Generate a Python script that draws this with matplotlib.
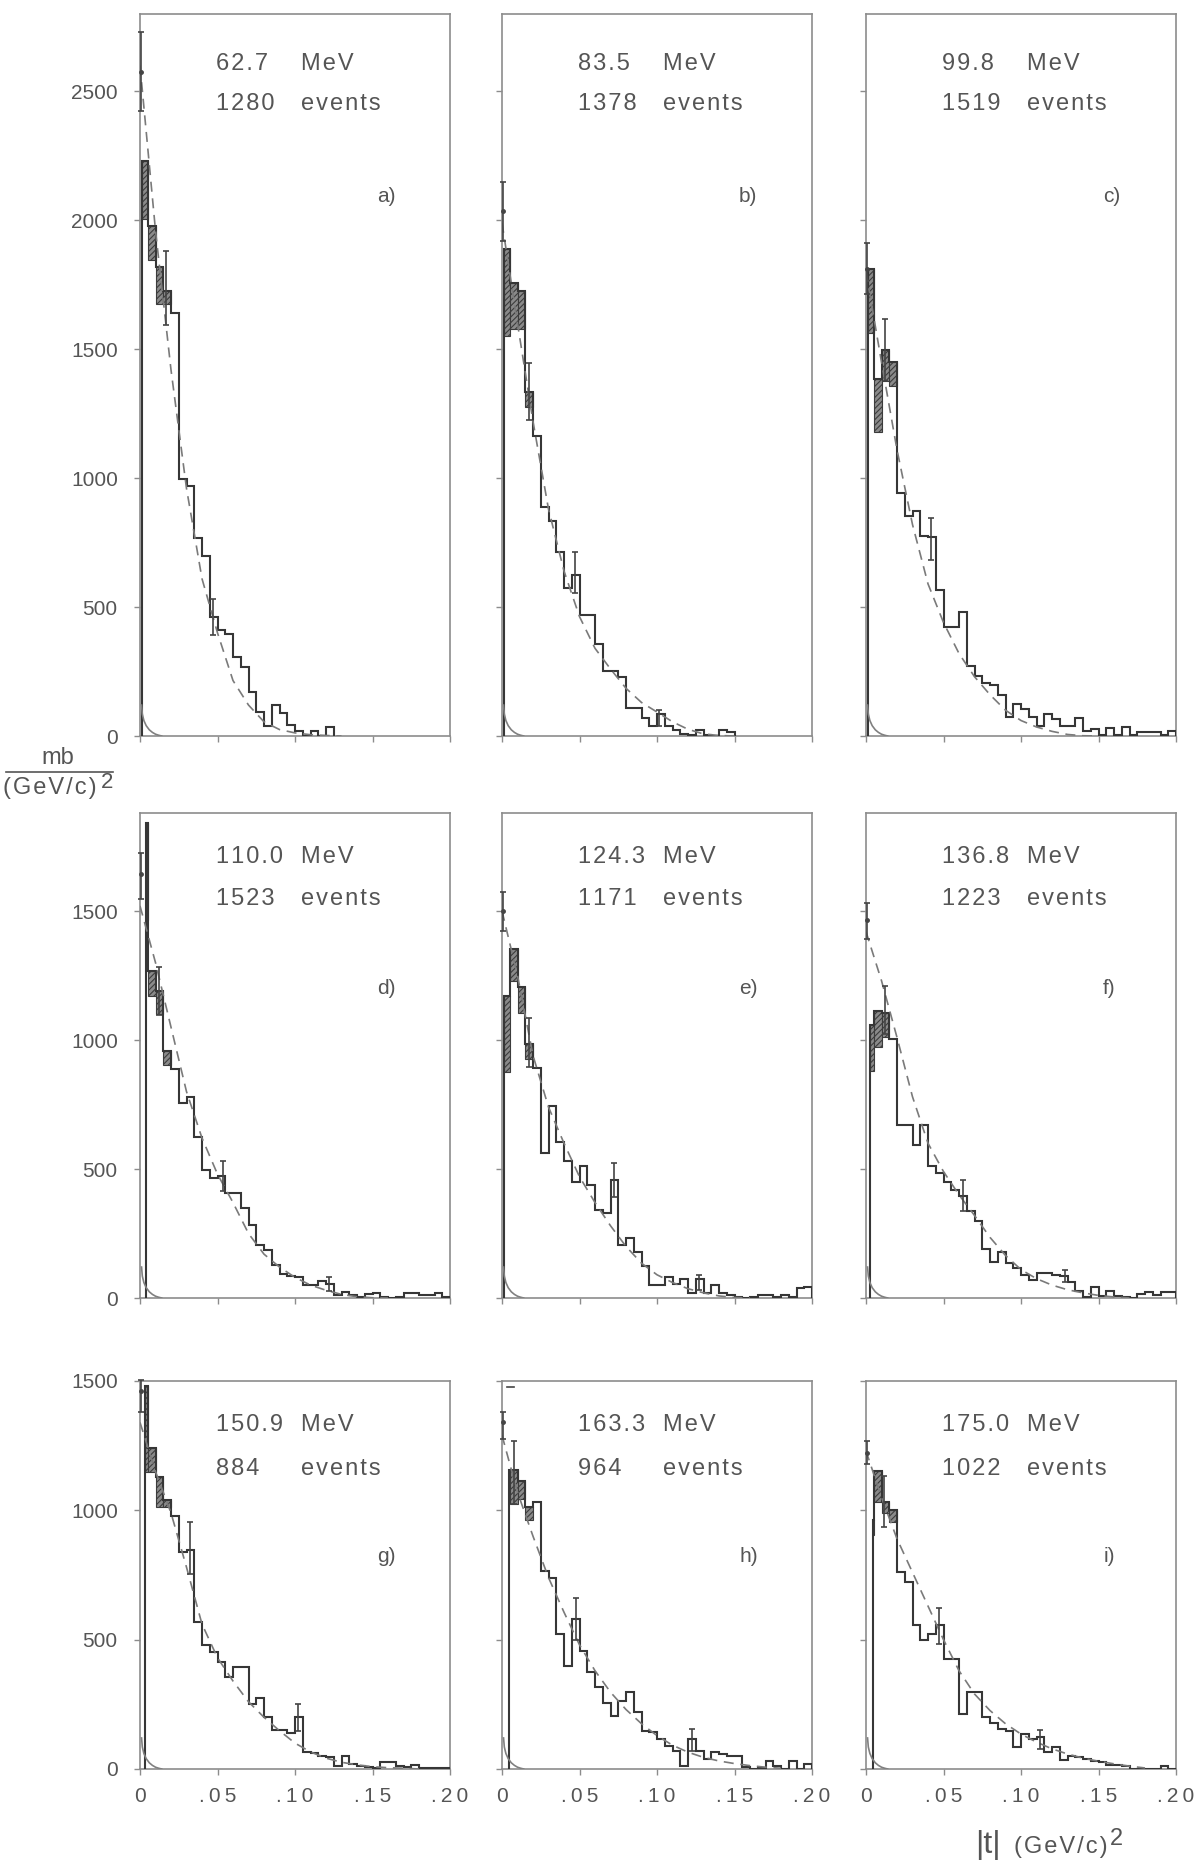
import numpy as np
import matplotlib
matplotlib.use("Agg")
import matplotlib.pyplot as plt
from matplotlib.patches import Rectangle
from matplotlib.lines import Line2D

plt.rcParams['font.family'] = ['Liberation Sans', 'DejaVu Sans']
plt.rcParams['hatch.linewidth'] = 0.8

W, H = 1197, 1868
HS = "\u200a"   # hair space, the original lettering is widely tracked
TS = "\u2009"

# ---------------- data ----------------
energies = ["62.7", "83.5", "99.8", "110.0", "124.3", "136.8", "150.9", "163.3", "175.0"]
events = ["1280", "1378", "1519", "1523", "1171", "1223", "884", "964", "1022"]
tags = ["a)", "b)", "c)", "d)", "e)", "f)", "g)", "h)", "i)"]

bin_w = 0.005
# left edge of the first (partial) bin, the rest are multiples of 0.005
first_edge = [0.0012, 0.0015, 0.0013, 0.0036, 0.0015, 0.0028, 0.0033, 0.0048, 0.0045]

counts_a = [2228, 1976, 1820, 1727, 1640, 998, 968, 768, 697, 463, 412, 397, 305, 268,
            169, 92, 40, 120, 88, 43, 21, 0, 21, 0, 34]
counts_b = [1888, 1757, 1725, 1336, 1162, 888, 835, 712, 574, 625, 470, 470, 357, 253,
            253, 229, 109, 109, 71, 39, 84, 39, 24, 9, 2, 24, 2, 0, 24, 15]
counts_c = [1811, 1386, 1498, 1451, 943, 853, 873, 775, 770, 566, 421, 421, 480, 272,
            234, 206, 197, 159, 75, 125, 103, 75, 37, 84, 65, 37, 37, 69, 19, 28,
            4, 32, 4, 34, 4, 15, 15, 15, 4, 19]
counts_d = [1843, 1267, 1191, 956, 889, 756, 779, 626, 495, 466, 472, 406, 406, 349,
            282, 206, 186, 126, 93, 87, 83, 49, 49, 67, 53, 13, 24, 13, 3, 16,
            20, 3, 0, 3, 20, 20, 11, 13, 20, 3]
counts_e = [1170, 1354, 1204, 984, 893, 564, 744, 604, 530, 451, 511, 437, 341, 331,
            457, 204, 233, 177, 124, 51, 51, 80, 55, 75, 21, 75, 21, 51, 21, 11,
            4, 0, 4, 11, 11, 4, 11, 4, 37, 44]
counts_f = [1059, 1112, 1105, 1005, 671, 671, 594, 671, 511, 484, 451, 417, 397, 337,
            299, 190, 139, 179, 136, 116, 90, 70, 96, 96, 90, 86, 63, 29, 3, 43,
            9, 29, 9, 5, 0, 16, 23, 13, 23, 23]
counts_g = [1480, 1241, 1128, 1040, 980, 838, 847, 567, 481, 451, 412, 354, 393, 393,
            251, 273, 200, 151, 151, 138, 200, 64, 61, 52, 45, 13, 52, 19, 13, 6,
            4, 26, 26, 13, 6, 15, 4, 4, 4, 4]
counts_h = [1155, 1155, 1112, 1013, 1032, 764, 738, 522, 400, 580, 458, 374, 316, 255,
            206, 264, 297, 219, 148, 142, 116, 90, 71, 13, 116, 71, 39, 64, 58, 49,
            49, 6, 0, 3, 32, 13, 0, 32, 0, 19]
counts_i = [961, 1152, 1032, 1000, 761, 722, 555, 499, 522, 557, 426, 426, 213, 297,
            297, 200, 177, 155, 148, 86, 135, 116, 125, 64, 84, 35, 52, 45, 39, 32,
            26, 17, 17, 13, 0, 0, 0, 0, 13, 0]

# shaded correction boxes: (bin index, low, high)
boxes_a = [(0, 2004, 2228), (1, 1845, 1976), (2, 1676, 1820), (3, 1676, 1727)]
boxes_b = [(0, 1551, 1888), (1, 1580, 1757), (2, 1580, 1725), (3, 1275, 1336)]
boxes_c = [(0, 1564, 1811), (1, 1180, 1386), (2, 1376, 1498), (3, 1358, 1451)]
boxes_d = [(0, 1464, 1843), (1, 1171, 1267), (2, 1102, 1191), (3, 905, 956)]
boxes_e = [(0, 875, 1170), (1, 1230, 1354), (2, 1106, 1204), (3, 928, 984)]
boxes_f = [(0, 878, 1059), (1, 972, 1112), (2, 1012, 1105)]
boxes_g = [(0, 1150, 1480), (1, 1147, 1241), (2, 1012, 1128), (3, 1012, 1040)]
boxes_h = [(1, 1026, 1155), (2, 1045, 1112), (3, 961, 1013)]
boxes_i = [(0, 903, 961), (1, 1032, 1152), (2, 989, 1032), (3, 955, 1000)]

# error bars on single bins: (t, low, high)
errs_a = [(0.0168, 1592, 1882), (0.0468, 393, 530)]
errs_b = [(0.0177, 1224, 1448), (0.0474, 553, 712), (0.1010, 39, 99)]
errs_c = [(0.0120, 1376, 1616), (0.0422, 684, 847)]
errs_d = [(0.0123, 1098, 1284), (0.0535, 413, 530), (0.1220, 27, 80)]
errs_e = [(0.0172, 897, 1084), (0.0720, 391, 524), (0.1270, 31, 91)]
errs_f = [(0.0122, 1025, 1209), (0.0625, 337, 457), (0.1285, 63, 110)]
errs_g = [(0.0323, 754, 954), (0.1022, 148, 251)]
errs_h = [(0.0075, 1026, 1267), (0.0477, 500, 660), (0.1224, 71, 155)]
errs_i = [(0.0118, 935, 1131), (0.0474, 484, 623), (0.1125, 78, 152)]

# extrapolated point at t = 0: (value, low, high)
zero_pts = [(2575, 2425, 2730), (2035, 1920, 2150), (1811, 1714, 1910),
            (1644, 1547, 1724), (1501, 1421, 1574), (1467, 1393, 1533),
            (1463, 1379, 1502), (1342, 1275, 1380), (1222, 1180, 1268)]

# dashed fitted curve, read at t = 0, .01, ... .18
fit_t = [0.00, 0.01, 0.02, 0.03, 0.04, 0.05, 0.06, 0.07, 0.08, 0.09,
         0.10, 0.11, 0.12, 0.13, 0.14, 0.15, 0.16, 0.17, 0.18]
fit_a = [2600, 1960, 1420, 960, 610, 400, 215, 120, 55, 25, 12, 5, 2, 0]
fit_b = [1990, 1600, 1220, 880, 640, 463, 340, 260, 185, 130, 93, 55, 26, 8, 2, 0]
fit_c = [1800, 1450, 1110, 820, 590, 440, 320, 230, 160, 100, 60, 35, 18, 6, 1, 0]
fit_d = [1520, 1300, 1050, 800, 620, 480, 370, 250, 170, 120, 80, 50, 30, 14, 5, 1, 0]
fit_e = [1500, 1250, 940, 740, 600, 470, 370, 280, 200, 135, 90, 60, 36, 20, 8, 2, 0]
fit_f = [1420, 1230, 1010, 780, 600, 490, 400, 320, 235, 165, 110, 75, 50, 32, 20, 10, 4, 0]
fit_g = [1340, 1150, 990, 780, 560, 430, 340, 260, 200, 148, 100, 66, 42, 26, 16, 9, 5, 3, 0]
fit_h = [1290, 1070, 900, 740, 606, 480, 380, 297, 230, 175, 129, 92, 65, 45, 31, 21, 13, 7, 3]
fit_i = [1230, 1050, 890, 760, 630, 500, 380, 290, 226, 175, 135, 104, 78, 58, 42, 30, 20, 11, 4]

# small solid curve near the origin (same in every panel)
coul_t = [0.0010, 0.0015, 0.0025, 0.0040, 0.0060, 0.0080, 0.0100, 0.0120, 0.0140]
coul_v = [120, 85, 60, 40, 24, 14, 7, 3, 0]

# stray mark at the top of panel h
h_mark = (0.0032, 0.0075, 1477)

row_ymax = [2800, 1880, 1500]
row_yticks = [[0, 500, 1000, 1500, 2000, 2500], [0, 500, 1000, 1500], [0, 500, 1000, 1500]]
xticks = [0, 0.05, 0.10, 0.15, 0.20]
xtick_labels = ["0", ".05", ".10", ".15", ".20"]

counts = [counts_a, counts_b, counts_c, counts_d, counts_e, counts_f, counts_g, counts_h, counts_i]
boxes = [boxes_a, boxes_b, boxes_c, boxes_d, boxes_e, boxes_f, boxes_g, boxes_h, boxes_i]
errs = [errs_a, errs_b, errs_c, errs_d, errs_e, errs_f, errs_g, errs_h, errs_i]
fits = [fit_a, fit_b, fit_c, fit_d, fit_e, fit_f, fit_g, fit_h, fit_i]

# ---------------- layout (pixels of the 1197x1868 page) ----------------
col_left = [140, 502, 866]
col_w = 310
row_top = [14, 813, 1381]
row_zero = [736, 1298, 1769]
mev_dy = [50, 44, 44]
evt_dy = [90, 86, 88]
tag_dy = [182, 175, 175]

FRAME = '#8c8c8c'
INK = '#363636'
TXT = '#555555'


def spaced(s, sep=HS):
    return sep.join(s)


fig = plt.figure(figsize=(W / 100, H / 100), dpi=100)
fig.patch.set_facecolor('white')

for k in range(9):
    r, c = divmod(k, 3)
    hpx = row_zero[r] - row_top[r]
    ax = fig.add_axes([col_left[c] / W, 1 - row_zero[r] / H, col_w / W, hpx / H])
    ax.set_xlim(0, 0.2)
    ax.set_ylim(0, row_ymax[r])
    for s in ax.spines.values():
        s.set_color(FRAME)
        s.set_linewidth(1.2)

    vals = counts[k]
    edges = np.r_[first_edge[k], bin_w * np.arange(1, len(vals) + 1)]

    for (b, lo, hi) in boxes[k]:
        ax.add_patch(Rectangle((edges[b], lo), edges[b + 1] - edges[b], hi - lo,
                               facecolor='#8a8a8a', edgecolor='#3c3c3c',
                               hatch='//////', lw=0.8, zorder=2))

    ax.stairs(vals, edges, baseline=0, color=INK, lw=1.5, zorder=3)

    f = fits[k]
    ax.plot(fit_t[:len(f)], f, color='#7a7a7a', lw=1.2, dashes=(6, 4), zorder=4)
    ax.plot(coul_t, coul_v, color='#808080', lw=1.2, zorder=4)

    for (t, lo, hi) in errs[k]:
        mid = 0.5 * (lo + hi)
        ax.errorbar([t], [mid], yerr=[[mid - lo], [hi - mid]], fmt='none',
                    ecolor='#444444', elinewidth=1.2, capsize=2.5, capthick=1.2, zorder=5)

    v0, lo0, hi0 = zero_pts[k]
    ax.errorbar([0.0004], [v0], yerr=[[v0 - lo0], [hi0 - v0]], fmt='o', ms=2.5,
                color='#444444', elinewidth=1.2, capsize=2.5, capthick=1.2,
                zorder=5, clip_on=False)

    if k == 7:
        ax.plot([h_mark[0], h_mark[1]], [h_mark[2], h_mark[2]], color='#444444', lw=1.2)

    # ticks
    ax.set_yticks(row_yticks[r])
    ax.set_xticks(xticks)
    ax.tick_params(axis='both', direction='out', length=4, width=1.0, color=FRAME,
                   labelsize=15, labelcolor=TXT)
    ax.tick_params(axis='y', pad=12)
    ax.tick_params(axis='x', pad=9)
    if c == 0:
        ax.set_yticklabels([str(v) for v in row_yticks[r]])
    else:
        ax.set_yticklabels([])
    if r == 2:
        ax.set_xticklabels([spaced(s, TS) for s in xtick_labels])
    else:
        ax.set_xticklabels([])

    # annotations
    ax.text(0.245, 1 - mev_dy[r] / hpx, spaced(energies[k]), transform=ax.transAxes,
            fontsize=17, color=TXT, ha='left', va='center')
    ax.text(0.52, 1 - mev_dy[r] / hpx, spaced("MeV"), transform=ax.transAxes,
            fontsize=17, color=TXT, ha='left', va='center')
    ax.text(0.245, 1 - evt_dy[r] / hpx, spaced(events[k]), transform=ax.transAxes,
            fontsize=17, color=TXT, ha='left', va='center')
    ax.text(0.52, 1 - evt_dy[r] / hpx, spaced("events"), transform=ax.transAxes,
            fontsize=17, color=TXT, ha='left', va='center')
    ax.text(0.765, 1 - tag_dy[r] / hpx, tags[k], transform=ax.transAxes,
            fontsize=15, color=TXT, ha='left', va='center')

# y-axis unit as a fraction
fig.text(58 / W, 1 - 758 / H, "mb", fontsize=17, color=TXT, ha='center', va='center')
fig.add_artist(Line2D([6 / W, 113 / W], [1 - 772 / H, 1 - 772 / H],
                      transform=fig.transFigure, color='#555555', lw=1.2))
fig.text(3 / W, 1 - 788 / H, spaced("(GeV/c)"), fontsize=17, color=TXT,
         ha='left', va='center')
fig.text(101 / W, 1 - 783 / H, "2", fontsize=16, color=TXT, ha='left', va='center')

# x-axis label
fig.text(975 / W, 1 - 1845 / H, "|t|", fontsize=23, color=TXT, ha='left', va='center')
fig.text(1014 / W, 1 - 1847 / H, spaced("(GeV/c)"), fontsize=17, color=TXT,
         ha='left', va='center')
fig.text(1110 / W, 1 - 1839 / H, "2", fontsize=17, color=TXT, ha='left', va='center')

fig.savefig("out.png", dpi=100, facecolor='white')
